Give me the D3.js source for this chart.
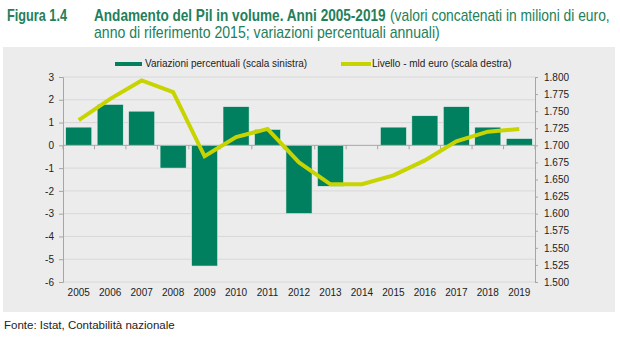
<!DOCTYPE html>
<html>
<head>
<meta charset="utf-8">
<script src="https://cdn.jsdelivr.net/npm/d3@7"></script>
<style>
  body { margin: 0; background: #fff; }
  svg { display: block; }
  .tick text { font-family: "Liberation Sans", Arial, sans-serif; font-size: 10px; fill: #222; }
</style>
</head>
<body>
<svg width="620" height="337"></svg>
<script>
var years = ["2005", "2006", "2007", "2008", "2009", "2010", "2011", "2012", "2013", "2014", "2015", "2016", "2017", "2018", "2019"];
// annual % change (left scale)
var variazioni = [0.8, 1.8, 1.5, -1.0, -5.3, 1.7, 0.7, -3.0, -1.8, 0.0, 0.8, 1.3, 1.7, 0.8, 0.3];
// level, billions of euro (right scale)
var livello = [1.737, 1.768, 1.795, 1.778, 1.684, 1.712, 1.724, 1.675, 1.643, 1.643, 1.656, 1.678, 1.706, 1.720, 1.724];
var leftTicks = [3, 2, 1, 0, -1, -2, -3, -4, -5, -6];
var rightTicks = [1.800, 1.775, 1.750, 1.725, 1.700, 1.675, 1.650, 1.625, 1.600, 1.575, 1.550, 1.525, 1.500];

var svg = d3.select("svg");
var green = "#23805a";
var barColor = "#00805f";
var lineColor = "#c8d400";
var sans = "'Liberation Sans', Arial, sans-serif";

// grey panel
svg.append("rect")
  .attr("x", 3).attr("y", 47)
  .attr("width", 612).attr("height", 265)
  .attr("fill", "#ececec");

// title: squeeze each piece horizontally for a condensed look
function titleText(txt, xPos, yPos, len, bold) {
  var g = svg.append("g");
  var t = g.append("text")
    .attr("fill", green)
    .style("font-family", sans)
    .style("font-size", "16px")
    .style("font-weight", bold ? "bold" : "normal")
    .text(txt);
  var k = len / t.node().getComputedTextLength();
  g.attr("transform", "translate(" + xPos + "," + yPos + ") scale(" + k + ",1)");
}
titleText("Figura 1.4", 7, 21, 60, true);
titleText("Andamento del Pil in volume. Anni 2005-2019", 94, 21, 292, true);
titleText("(valori concatenati in milioni di euro,", 390, 21, 220, false);
titleText("anno di riferimento 2015; variazioni percentuali annuali)", 94, 38, 346, false);

var x = d3.scaleBand().domain(years).range([63, 535]).paddingInner(0.17).paddingOuter(0.085);
var yL = d3.scaleLinear().domain([-6, 3]).range([282, 77]);
var yR = d3.scaleLinear().domain([1.5, 1.8]).range([282, 77]);

// gridlines
svg.append("g").selectAll("line").data(leftTicks.filter(function (d) { return d !== 0; })).enter()
  .append("line")
  .attr("x1", 63).attr("x2", 535)
  .attr("y1", function (d) { return yL(d); })
  .attr("y2", function (d) { return yL(d); })
  .attr("stroke", "#d8d8d8").attr("stroke-width", 1);

// left axis
var axL = svg.append("g").attr("transform", "translate(63,0)")
  .call(d3.axisLeft(yL).tickValues(leftTicks).tickSize(4).tickPadding(5)
    .tickFormat(function (d) { return String(d); }));
axL.selectAll("path, line").attr("stroke", "#a6a6a6");

// right axis
var axR = svg.append("g").attr("transform", "translate(535,0)")
  .call(d3.axisRight(yR).tickValues(rightTicks).tickSize(3).tickPadding(6).tickFormat(d3.format(".3f")));
axR.selectAll("path, line").attr("stroke", "#a6a6a6");

// bars
svg.append("g").selectAll("rect").data(variazioni).enter()
  .append("rect")
  .attr("x", function (d, i) { return x(years[i]); })
  .attr("y", function (d) { return yL(Math.max(0, d)); })
  .attr("width", x.bandwidth())
  .attr("height", function (d) { return Math.abs(yL(d) - yL(0)); })
  .attr("fill", barColor)
  .attr("stroke", "#e8f2ee").attr("stroke-width", 0.6);

// x axis on the zero line
var step = x.step();
var bounds = d3.range(years.length + 1).map(function (i) { return 63 + i * step; });
svg.append("line")
  .attr("x1", 63).attr("x2", 535)
  .attr("y1", yL(0)).attr("y2", yL(0))
  .attr("stroke", "#a6a6a6");
svg.append("g").selectAll("line").data(bounds).enter()
  .append("line")
  .attr("x1", function (d) { return d; }).attr("x2", function (d) { return d; })
  .attr("y1", yL(0)).attr("y2", yL(0) + 4)
  .attr("stroke", "#a6a6a6");

// year labels
svg.append("g").selectAll("text").data(years).enter()
  .append("text")
  .attr("x", function (d) { return x(d) + x.bandwidth() / 2; })
  .attr("y", 296)
  .attr("text-anchor", "middle")
  .style("font-family", sans)
  .style("font-size", "10px")
  .attr("fill", "#222")
  .text(function (d) { return d; });

// level line
var line = d3.line()
  .x(function (d, i) { return x(years[i]) + x.bandwidth() / 2; })
  .y(function (d) { return yR(d); });
svg.append("path")
  .datum(livello)
  .attr("d", line)
  .attr("fill", "none")
  .attr("stroke", lineColor)
  .attr("stroke-width", 4)
  .attr("stroke-linejoin", "miter");

// legend
svg.append("rect").attr("x", 115).attr("y", 62).attr("width", 27).attr("height", 4).attr("fill", barColor);
svg.append("text").attr("x", 145).attr("y", 67)
  .style("font-family", sans).style("font-size", "10px").attr("fill", "#222")
  .text("Variazioni percentuali (scala sinistra)");
svg.append("line").attr("x1", 341).attr("x2", 371).attr("y1", 64).attr("y2", 64)
  .attr("stroke", lineColor).attr("stroke-width", 4);
svg.append("text").attr("x", 372).attr("y", 67)
  .style("font-family", sans).style("font-size", "10px").attr("fill", "#222")
  .text("Livello - mld euro (scala destra)");

// source
svg.append("text").attr("x", 4).attr("y", 329)
  .style("font-family", sans).style("font-size", "11.5px").attr("fill", "#222")
  .text("Fonte: Istat, Contabilità nazionale");
</script>
</body>
</html>
